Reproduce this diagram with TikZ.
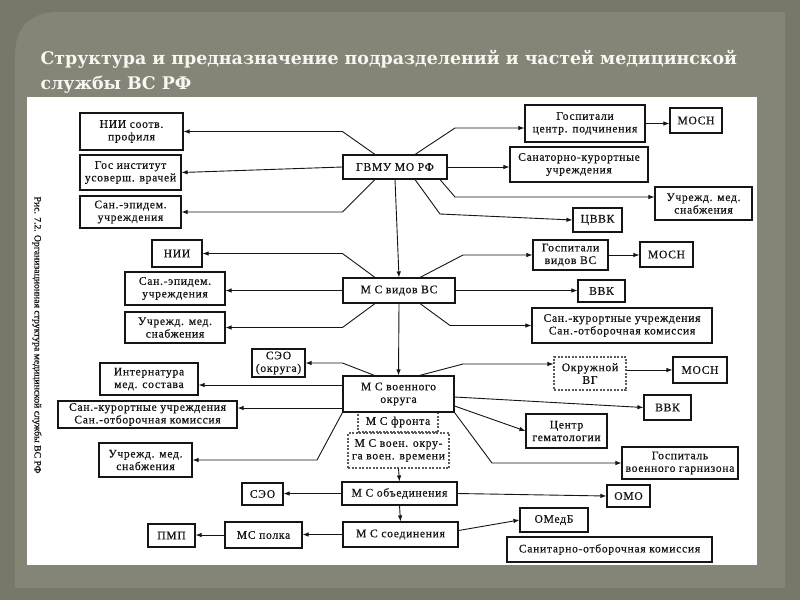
\documentclass[tikz,border=0pt]{standalone}
\usepackage{fontspec}
\setmainfont{Liberation Serif}[LetterSpace=6,FakeBold=0.6]
\newfontfamily\capfont{Liberation Serif}[FakeBold=0.8]
\newfontfamily\titlefont{DejaVu Serif}[BoldFont={DejaVu Serif Bold}]
\usetikzlibrary{arrows.meta,calc}
\definecolor{bgout}{HTML}{77776A}
\definecolor{panel}{HTML}{858577}
\definecolor{titlec}{HTML}{F7F7F2}
\definecolor{ink}{HTML}{151515}
\begin{document}
\begin{tikzpicture}[x=1pt,y=-1pt,
  box/.style={draw=ink, line width=1.1pt, fill=white, align=center, inner sep=1pt,
    font=\fontsize{11.6}{12.6}\selectfont, text=ink},
  dbox/.style={box, draw=gray!70!black, dash pattern=on 2pt off 1.5pt},
  arr/.style={draw=ink, line width=0.9pt, -{Latex[length=6pt,width=4.5pt]}},
  ttl/.style={anchor=base west, font=\titlefont\bfseries\fontsize{17.4}{20}\selectfont, text=titlec}]
\useasboundingbox (0,0) rectangle (800,600);
\fill[bgout] (0,0) rectangle (800,600);
\fill[panel] (15,588) -- (15,55) .. controls (15,28) and (30,12) .. (58,12) -- (785,12) -- (785,588) -- cycle;
\fill[white] (27,97) rectangle (757,565);

\node[ttl] (t1) at (37,64) {Структура и предназначение подразделений и частей медицинской};
\node[ttl] (t2) at (37,89) {службы ВС РФ};

\node[rotate=-90, font=\capfont\fontsize{9.7}{10}\selectfont, text=ink] (cap) at (37,335) {Рис. 7.2. Организационная структура медицинской службы ВС РФ};

% level 1
\node[box, minimum width=103pt, minimum height=37pt] (nii1) at (131.5,131.5) {НИИ соотв.\\профиля};
\node[box, minimum width=101pt, minimum height=35pt] (gos) at (130.5,172.5) {Гос институт\\усоверш. врачей};
\node[box, minimum width=101pt, minimum height=32pt] (sanep1) at (130.5,212) {Сан.-эпидем.\\учреждения};
\node[box, minimum width=104pt, minimum height=24pt] (gvmu) at (395,167) {ГВМУ МО РФ};
\node[box, minimum width=120pt, minimum height=37pt] (gosp1) at (585,123.5) {Госпитали\\центр. подчинения};
\node[box, minimum width=52pt, minimum height=25pt] (mosn1) at (696,120.5) {МОСН};
\node[box, minimum width=138pt, minimum height=35pt] (sanat) at (579,164.5) {Санаторно-курортные\\учреждения};
\node[box, minimum width=97pt, minimum height=33pt] (snab1) at (703.5,203.5) {Учрежд. мед.\\снабжения};
\node[box, minimum width=49pt, minimum height=24pt] (cvvk) at (597.5,220) {ЦВВК};

% level 2
\node[box, minimum width=50pt, minimum height=27pt] (nii2) at (177,253.5) {НИИ};
\node[box, minimum width=100pt, minimum height=33pt] (sanep2) at (175,288.5) {Сан.-эпидем.\\учреждения};
\node[box, minimum width=100pt, minimum height=31pt] (snab2) at (175,327.5) {Учрежд. мед.\\снабжения};
\node[box, minimum width=112pt, minimum height=25pt] (msvid) at (399,290.5) {М С видов ВС};
\node[box, minimum width=75pt, minimum height=30pt] (gosp2) at (570.5,255) {Госпитали\\видов ВС};
\node[box, minimum width=53pt, minimum height=25pt] (mosn2) at (666.5,254.5) {МОСН};
\node[box, minimum width=47pt, minimum height=22pt] (vvk1) at (601.5,291) {ВВК};
\node[box, minimum width=180pt, minimum height=35pt] (sankur1) at (622,325.5) {Сан.-курортные учреждения\\Сан.-отборочная комиссия};

% level 3
\node[box, minimum width=53pt, minimum height=28pt] (seo1) at (278.5,363) {СЭО\\(округа)};
\node[box, minimum width=98pt, minimum height=32pt] (intern) at (149,379) {Интернатура\\мед. состава};
\node[box, minimum width=179pt, minimum height=27pt] (sankur2) at (147.5,414.5) {Сан.-курортные учреждения\\Сан.-отборочная комиссия};
\node[box, minimum width=93pt, minimum height=34pt] (snab3) at (145.5,460) {Учрежд. мед.\\снабжения};
\node[dbox, minimum width=80pt, minimum height=20pt] (msfront) at (398,422) {М С фронта};
\node[dbox, minimum width=101pt, minimum height=35pt] (msvv) at (398.5,450.5) {М С воен. окру-\\га воен. времени};
\node[box, minimum width=111pt, minimum height=36pt] (msvo) at (398.5,394) {М С военного\\округа};
\node[dbox, minimum width=72pt, minimum height=33pt] (okrvg) at (590,373.5) {Окружной\\ВГ};
\node[box, minimum width=54pt, minimum height=26pt] (mosn3) at (700,370) {МОСН};
\node[box, minimum width=47pt, minimum height=25pt] (vvk2) at (667.5,407.5) {ВВК};
\node[box, minimum width=81pt, minimum height=34pt] (gemat) at (566.5,431) {Центр\\гематологии};
\node[box, minimum width=116pt, minimum height=32pt] (gospgar) at (680,463) {Госпиталь\\военного гарнизона};

% level 4
\node[box, minimum width=115pt, minimum height=23pt] (msob) at (399.5,493.5) {М С объединения};
\node[box, minimum width=41pt, minimum height=22pt] (seo2) at (262.5,494) {СЭО};
\node[box, minimum width=43pt, minimum height=22pt] (omo) at (628.5,496) {ОМО};
\node[box, minimum width=115pt, minimum height=25pt] (mssoed) at (400.5,534.5) {М С соединения};
\node[box, minimum width=77pt, minimum height=26pt] (mspolk) at (263.5,535) {МС полка};
\node[box, minimum width=47pt, minimum height=23pt] (pmp) at (171.5,535.5) {ПМП};
\node[box, minimum width=68pt, minimum height=24pt] (omedb) at (554,520) {ОМедБ};
\node[box, minimum width=205pt, minimum height=25pt] (sanotb) at (609.5,549.5) {Санитарно-отборочная комиссия};

% connectors: ГВМУ
\draw[arr] ([xshift=-20pt]gvmu.north) -- (gvmu.west |- nii1.east) -- (nii1.east);
\draw[arr] (gvmu.west) -- (gos.east);
\draw[arr] ([xshift=-20pt]gvmu.south) -- (gvmu.west |- sanep1.east) -- (sanep1.east);
\coordinate (g1) at (455,128);
\draw[arr] ([xshift=20pt]gvmu.north) -- (g1) -- (g1 -| gosp1.west);
\draw[arr] (gosp1.east) -- (gosp1.east -| mosn1.west);
\draw[arr] (gvmu.east) -- (gvmu.east -| sanat.west);
\coordinate (g2) at (455,197);
\draw[arr] ([xshift=45pt]gvmu.south) -- (g2) -- (g2 -| snab1.west);
\coordinate (g3) at (440,214);
\draw[arr] ([xshift=20pt]gvmu.south) -- (g3) -- (cvvk.west);
\draw[arr] (gvmu.south) -- (msvid.north);

% МС видов ВС
\draw[arr] ([xshift=-24pt]msvid.north) -- (msvid.west |- nii2.east) -- (nii2.east);
\draw[arr] (msvid.west) -- (msvid.west -| sanep2.east);
\draw[arr] ([xshift=-24pt]msvid.south) -- (msvid.west |- snab2.east) -- (snab2.east);
\coordinate (v1) at (463,255);
\draw[arr] ([xshift=21pt]msvid.north) -- (v1) -- (v1 -| gosp2.west);
\draw[arr] (gosp2.east) -- (gosp2.east -| mosn2.west);
\draw[arr] (msvid.east) -- (msvid.east -| vvk1.west);
\coordinate (v2) at (450,325.5);
\draw[arr] ([xshift=21pt]msvid.south) -- (v2) -- (v2 -| sankur1.west);
\draw[arr] (msvid.south) -- (msvo.north);

% МС военного округа
\draw[arr] ([xshift=-24pt]msvo.north) -- (msvo.west |- seo1.east) -- (seo1.east);
\coordinate (o1) at ([yshift=9pt]msvo.west);
\draw[arr] (o1) -- (o1 -| intern.east);
\coordinate (o2) at ([yshift=-14pt]msvo.west);
\draw[arr] (o2) -- (o2 -| sankur2.east);
\coordinate (o3) at (317,460);
\draw[arr] (msvo.south west) -- (o3) -- (snab3.east);
\coordinate (o4) at (463,364);
\draw[arr] ([xshift=21pt]msvo.north) -- (o4) -- (o4 -| okrvg.west);
\draw[arr] (okrvg.east |- mosn3.west) -- (mosn3.west);
\draw[arr] ([yshift=-3pt]msvo.east) -- (vvk2.west);
\draw[arr] ([yshift=-12pt]msvo.east) -- (gemat.west);
\coordinate (o5) at (492,463);
\draw[arr] (msvo.south east) -- (o5) -- (o5 -| gospgar.west);

% lower levels
\draw[arr] (msvv.south) -- (msob.north);
\draw[arr] (msob.west) -- (msob.west -| seo2.east);
\draw[arr] (msob.east) -- (omo.west);
\draw[arr] (msob.south) -- (mssoed.north);
\draw[arr] (mssoed.west) -- (mssoed.west -| mspolk.east);
\draw[arr] (mspolk.west) -- (mspolk.west -| pmp.east);
\draw[arr] ([yshift=4pt]mssoed.east) -- (omedb.west);
\end{tikzpicture}
\end{document}
